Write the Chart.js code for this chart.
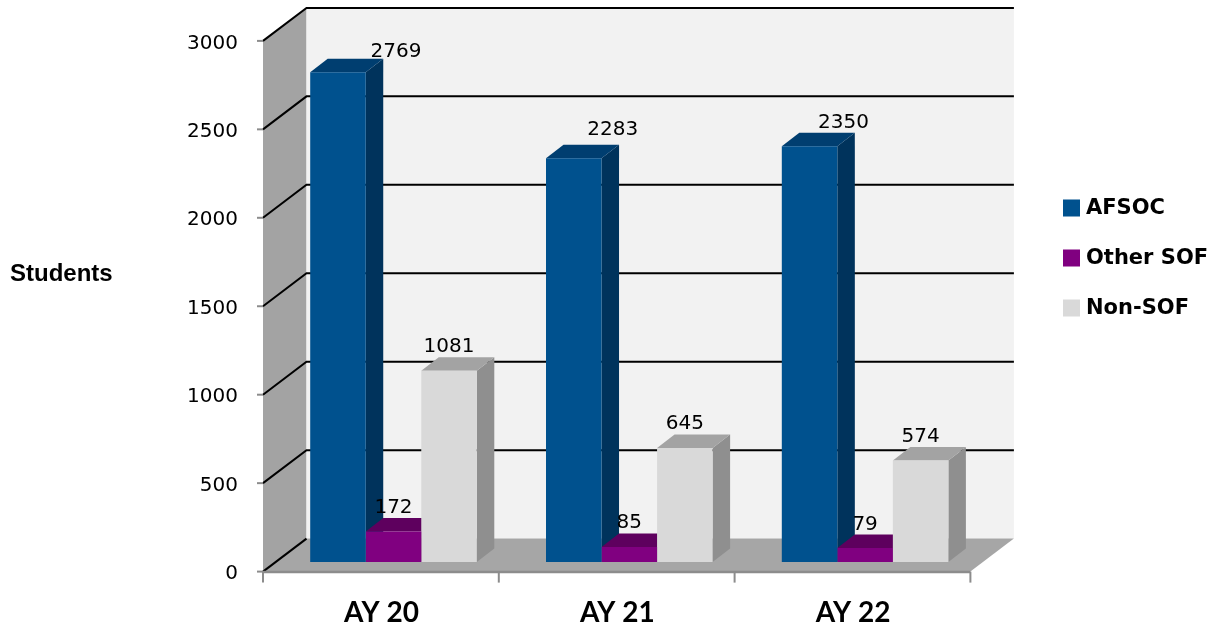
<!DOCTYPE html>
<html>
<head>
<meta charset="utf-8">
<script src="https://cdn.jsdelivr.net/npm/chart.js@4.4.1/dist/chart.umd.min.js"></script>
<style>
  html, body { margin: 0; padding: 0; background: #ffffff; }
  #wrap { width: 1217px; height: 629px; position: relative; }
</style>
</head>
<body>
<div id="wrap"><canvas id="myChart"></canvas></div>
<script>
// data
const categories = ['AY 20', 'AY 21', 'AY 22'];
const seriesNames = ['AFSOC', 'Other SOF', 'Non-SOF'];
const afsoc = [2769, 2283, 2350];
const otherSof = [172, 85, 79];
const nonSof = [1081, 645, 574];
const yMax = 3000;
const yStep = 500;

// colours: front, top, side
const frontColors = ['#00518e', '#800080', '#d9d9d9'];
const topColors = ['#003e70', '#5e005e', '#a3a3a3'];
const sideColors = ['#00335c', '#4c004c', '#8f8f8f'];

// 3D offsets, in pixels, from the plane the bars stand on
const barDepth = { dx: 17.5, dy: -13.5 };
const frontEdge = { dx: -12.6, dy: 9.6 };
const backEdge = { dx: 30.9, dy: -23.4 };

// label nudges for the AFSOC bars (Excel moved them aside)
const afsocLabelDx = [58, 39, 34];
const afsocLabelDy = [-2, -10, -5];

function poly(ctx, pts, fill) {
    ctx.beginPath();
    ctx.moveTo(pts[0][0], pts[0][1]);
    for (let i = 1; i < pts.length; i++) ctx.lineTo(pts[i][0], pts[i][1]);
    ctx.closePath();
    ctx.fillStyle = fill;
    ctx.fill();
}

function noPadding(scale) {
    scale.paddingTop = 0;
    scale.paddingBottom = 0;
    scale.paddingLeft = 0;
    scale.paddingRight = 0;
}

const frame3d = {
    id: 'frame3d',
    beforeDatasetsDraw(chart) {
        const { ctx, chartArea: a, scales: { x, y } } = chart;
        const y0 = y.getPixelForValue(0);
        const yTop = y.getPixelForValue(yMax);
        const fx = frontEdge.dx, fy = frontEdge.dy, bx = backEdge.dx, by = backEdge.dy;
        ctx.save();

        // left wall, back wall, floor
        poly(ctx, [[a.left + fx, y0 + fy], [a.left + fx, yTop + fy], [a.left + bx, yTop + by], [a.left + bx, y0 + by]], '#a3a3a3');
        poly(ctx, [[a.left + bx, yTop + by], [a.right + bx, yTop + by], [a.right + bx, y0 + by], [a.left + bx, y0 + by]], '#f2f2f2');
        poly(ctx, [[a.left + fx, y0 + fy], [a.right + fx, y0 + fy], [a.right + bx, y0 + by], [a.left + bx, y0 + by]], '#a6a6a6');

        // gridlines
        ctx.strokeStyle = '#000000';
        ctx.lineWidth = 2;
        y.ticks.forEach(t => {
            const py = y.getPixelForValue(t.value);
            ctx.beginPath();
            ctx.moveTo(a.left + fx, py + fy);
            ctx.lineTo(a.left + bx, py + by);
            if (t.value !== 0) ctx.lineTo(a.right + bx, py + by);
            ctx.stroke();
        });

        // axis edges and tick marks
        ctx.strokeStyle = '#8c8c8c';
        ctx.lineWidth = 2.5;
        ctx.beginPath();
        ctx.moveTo(a.left + fx, y0 + fy + 0.5);
        ctx.lineTo(a.right + fx, y0 + fy + 0.5);
        ctx.stroke();
        ctx.lineWidth = 2;
        y.ticks.forEach(t => {
            const py = y.getPixelForValue(t.value) + fy;
            ctx.beginPath();
            ctx.moveTo(a.left + fx - 6, py);
            ctx.lineTo(a.left + fx, py);
            ctx.stroke();
        });
        const catW = (a.right - a.left) / categories.length;
        for (let i = 0; i <= categories.length; i++) {
            const px = x.getPixelForValue(0) - catW / 2 + i * catW + fx;
            ctx.beginPath();
            ctx.moveTo(px, y0 + fy);
            ctx.lineTo(px, y0 + fy + 11);
            ctx.stroke();
        }

        // axis title, drawn upright
        ctx.fillStyle = '#000000';
        ctx.font = 'bold 24px "Liberation Sans"';
        ctx.textAlign = 'left';
        ctx.textBaseline = 'middle';
        ctx.fillText('Students', 10, 274);

        // legend
        ctx.font = 'bold 21px "DejaVu Sans"';
        seriesNames.forEach((name, i) => {
            const cy = 208 + i * 50;
            ctx.fillStyle = frontColors[i];
            ctx.fillRect(1063, cy - 8.5, 17, 17);
            ctx.fillStyle = '#000000';
            ctx.fillText(name, 1086, cy + 1);
        });

        // sides and tops of the bars, left to right
        for (let c = 0; c < categories.length; c++) {
            for (let d = 0; d < chart.data.datasets.length; d++) {
                const bar = chart.getDatasetMeta(d).data[c];
                const xl = bar.x - bar.width / 2, xr = bar.x + bar.width / 2;
                const top = bar.y, base = bar.base;
                const dx = barDepth.dx, dy = barDepth.dy;
                poly(ctx, [[xr, top], [xr + dx, top + dy], [xr + dx, base + dy], [xr, base]], sideColors[d]);
                poly(ctx, [[xl, top], [xr, top], [xr + dx, top + dy], [xl + dx, top + dy]], topColors[d]);
            }
        }
        ctx.restore();
    },
    afterDatasetsDraw(chart) {
        const { ctx } = chart;
        ctx.save();
        ctx.fillStyle = '#000000';
        ctx.font = '20px "DejaVu Sans"';
        ctx.textAlign = 'center';
        ctx.textBaseline = 'alphabetic';
        chart.data.datasets.forEach((ds, d) => {
            chart.getDatasetMeta(d).data.forEach((bar, c) => {
                const ndx = d === 0 ? afsocLabelDx[c] : 0;
                const ndy = d === 0 ? afsocLabelDy[c] : -5;
                ctx.fillText(String(ds.data[c]), bar.x + ndx, bar.y + barDepth.dy + ndy);
            });
        });
        ctx.restore();
    }
};

const data = {
    labels: categories,
    datasets: [
        { label: seriesNames[0], data: afsoc, backgroundColor: frontColors[0] },
        { label: seriesNames[1], data: otherSof, backgroundColor: frontColors[1] },
        { label: seriesNames[2], data: nonSof, backgroundColor: frontColors[2] }
    ]
};

const config = {
    type: 'bar',
    data,
    options: {
        responsive: true,
        maintainAspectRatio: false,
        animation: false,
        layout: { padding: { top: 31.3, right: 234, bottom: 0, left: 0 } },
        datasets: {
            bar: { categoryPercentage: 0.7065, barPercentage: 1.0, borderWidth: 0 }
        },
        plugins: {
            legend: { display: false },
            tooltip: { enabled: false }
        },
        scales: {
            x: {
                grid: { display: false, drawTicks: false },
                border: { display: false },
                ticks: {
                    color: '#000000',
                    font: { family: 'Lato', weight: 'bold', size: 28 },
                    labelOffset: -12,
                    padding: 34,
                    maxRotation: 0
                },
                afterFit(scale) { scale.height = 67; noPadding(scale); }
            },
            y: {
                min: 0,
                max: yMax,
                grid: { display: false, drawTicks: false },
                border: { display: false },
                ticks: {
                    stepSize: yStep,
                    color: '#000000',
                    font: { family: 'DejaVu Sans', size: 20 },
                    labelOffset: 12,
                    padding: 37.6,
                    callback: v => String(v)
                },
                afterFit(scale) { scale.width = 275.6; noPadding(scale); }
            }
        }
    },
    plugins: [frame3d]
};

const myChart = new Chart(document.getElementById('myChart'), config);
</script>
</body>
</html>
